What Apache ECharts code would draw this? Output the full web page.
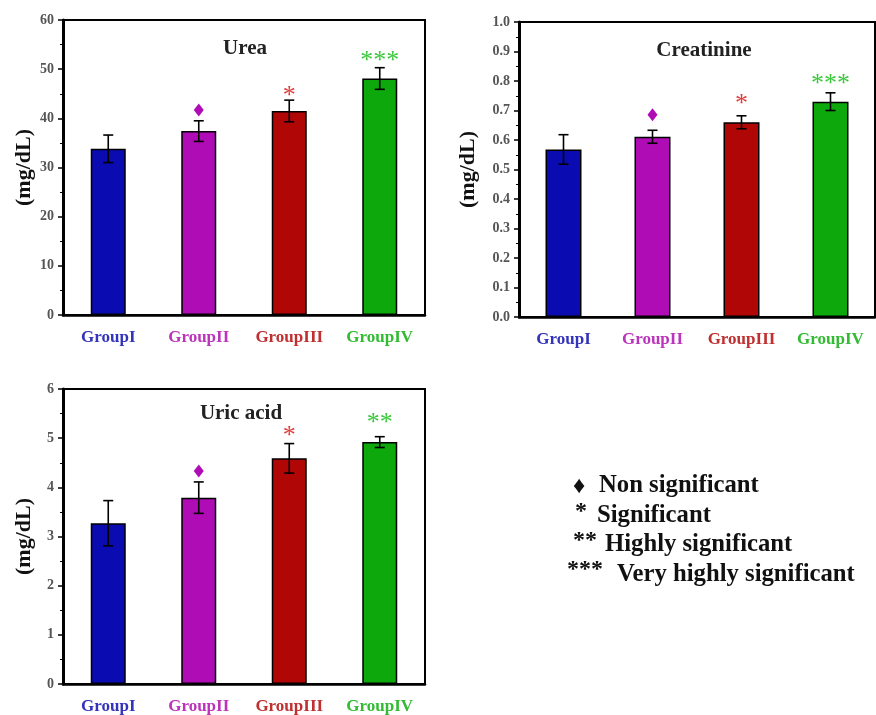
<!DOCTYPE html>
<html><head><meta charset="utf-8">
<script src="https://cdn.jsdelivr.net/npm/echarts@6/dist/echarts.min.js"></script>
<style>html,body{margin:0;padding:0;background:#fff}#c{width:876px;height:715px}</style>
</head><body><div id="c"></div>
<script>
const categories = ['GroupI', 'GroupII', 'GroupIII', 'GroupIV'];
const catColors = ['#3434bb', '#bb34bb', '#c03030', '#34bb34'];
const barColors = ['#0b0bb2', '#b00cb6', '#b00606', '#0ca80c'];

const ureaMean = [33.8, 37.4, 41.5, 48.1];
const ureaErr = [2.8, 2.1, 2.2, 2.2];
const ureaSigY = [null, 41.7, 45.7, 52.8];
const ureaSig = ['', 'diamond', '*', '***'];

const creatMean = [0.568, 0.611, 0.660, 0.730];
const creatErr = [0.05, 0.022, 0.022, 0.03];
const creatSigY = [null, 0.686, 0.742, 0.811];
const creatSig = ['', 'diamond', '*', '***'];

const uricMean = [3.27, 3.79, 4.59, 4.92];
const uricErr = [0.46, 0.32, 0.30, 0.11];
const uricSigY = [null, 4.33, 5.16, 5.43];
const uricSig = ['', 'diamond', '*', '**'];

const sigColors = ['#000', '#b00cb6', '#e03c3c', '#3cc83c'];
const legendSymbols = ['\u2666', '*', '**', '***'];
const legendLabels = ['Non significant', 'Significant', 'Highly significant', 'Very highly significant'];

const SERIF = '"Liberation Serif", "Times New Roman", "DejaVu Serif", serif';

const grids = [
  {left: 63, top: 20, width: 362, height: 295},
  {left: 519, top: 22, width: 356, height: 295},
  {left: 63, top: 389, width: 362, height: 296}
];
const yCfg = [
  {min: 0, max: 60, interval: 10, dec: 0, gap: 28},
  {min: 0, max: 1.0, interval: 0.1, dec: 1, gap: 40},
  {min: 0, max: 6, interval: 1, dec: 0, gap: 28}
];
const titles = [
  {text: 'Urea', x: 240, y: 33},
  {text: 'Creatinine', x: 699, y: 35},
  {text: 'Uric acid', x: 236, y: 398}
];
const means = [ureaMean, creatMean, uricMean];
const errs = [ureaErr, creatErr, uricErr];
const sigYs = [ureaSigY, creatSigY, uricSigY];
const sigs = [ureaSig, creatSig, uricSig];
const barWidths = [35, 36, 35];

const legendGraphics = [];
const symX = [573, 575, 573, 567];
const labX = [599, 597, 605, 617];
for (let i = 0; i < 4; i++) {
  const y = 484 + i * 29.4;
  legendGraphics.push({type: 'text', x: symX[i], y: y + (i === 0 ? 3 : -2),
    style: {text: legendSymbols[i], font: 'bold 24px ' + SERIF, fill: '#111', textVerticalAlign: 'middle'}});
  legendGraphics.push({type: 'text', x: labX[i], y: y + 2,
    style: {text: legendLabels[i], font: 'bold 24.7px ' + SERIF, fill: '#111', textVerticalAlign: 'middle'}});
}

const option = {
  animation: false,
  backgroundColor: '#fff',
  title: titles.map(t => ({
    text: t.text, left: t.x, top: t.y, textAlign: 'center',
    textStyle: {fontFamily: SERIF, fontWeight: 'bold', fontSize: 21, color: '#222'}
  })),
  grid: grids.map(g => Object.assign({show: true, borderColor: '#000', borderWidth: 2, backgroundColor: 'transparent'}, g)),
  xAxis: grids.map((g, i) => ({
    type: 'category', gridIndex: i, data: categories,
    axisLine: {lineStyle: {color: '#000', width: 2.5}},
    axisTick: {alignWithLabel: true, length: 7, lineStyle: {color: '#000', width: 2}},
    axisLabel: {
      margin: 14, fontFamily: SERIF, fontWeight: 'bold', fontSize: 17,
      color: function (v, idx) { return catColors[idx]; }
    },
    splitLine: {show: false}
  })),
  yAxis: yCfg.map((c, i) => ({
    type: 'value', gridIndex: i, min: c.min, max: c.max, interval: c.interval,
    name: '(mg/dL)', nameLocation: 'middle', nameGap: c.gap,
    nameTextStyle: {fontFamily: SERIF, fontWeight: 'bold', fontSize: 22, color: '#111'},
    axisLine: {show: true, lineStyle: {color: '#000', width: 3}},
    axisTick: {show: true, length: 5, lineStyle: {color: '#000', width: 1.5}},
    minorTick: {show: true, splitNumber: 2, length: 3, lineStyle: {color: '#000', width: 1}},
    axisLabel: {
      margin: 9, fontFamily: SERIF, fontWeight: 'bold', fontSize: 14, color: '#555',
      formatter: v => v.toFixed(c.dec)
    },
    splitLine: {show: false}
  })),
  series: [],
  graphic: legendGraphics
};

for (let i = 0; i < 3; i++) {
  option.series.push({
    type: 'bar', xAxisIndex: i, yAxisIndex: i, barWidth: barWidths[i],
    data: means[i].map((v, k) => ({value: v, itemStyle: {color: barColors[k], borderColor: '#000', borderWidth: 1.5}}))
  });
  option.series.push({
    type: 'custom', xAxisIndex: i, yAxisIndex: i, z: 5,
    data: means[i].map((v, k) => [k, v - errs[i][k], v + errs[i][k]]),
    renderItem: function (params, api) {
      const lo = api.coord([api.value(0), api.value(1)]);
      const hi = api.coord([api.value(0), api.value(2)]);
      const x = lo[0], w = 5;
      const st = {stroke: '#000', lineWidth: 1.6};
      return {type: 'group', children: [
        {type: 'line', shape: {x1: x, y1: lo[1], x2: x, y2: hi[1]}, style: st},
        {type: 'line', shape: {x1: x - w, y1: hi[1], x2: x + w, y2: hi[1]}, style: st},
        {type: 'line', shape: {x1: x - w, y1: lo[1], x2: x + w, y2: lo[1]}, style: st}
      ]};
    }
  });
  const sigData = [];
  sigYs[i].forEach((y, k) => { if (y !== null) sigData.push([k, y, k]); });
  const sigArr = sigs[i];
  option.series.push({
    type: 'custom', xAxisIndex: i, yAxisIndex: i, z: 6,
    data: sigData,
    renderItem: function (params, api) {
      const k = api.value(2);
      const p = api.coord([api.value(0), api.value(1)]);
      const kind = sigArr[k];
      const col = sigColors[k];
      if (kind === 'diamond') {
        return {type: 'polygon', shape: {points: [[p[0], p[1] - 6.5], [p[0] + 5, p[1]], [p[0], p[1] + 6.5], [p[0] - 5, p[1]]]}, style: {fill: col}};
      }
      return {type: 'text', x: p[0], y: p[1] + 6, style: {
        text: kind, fill: col, font: '26px ' + SERIF, textAlign: 'center', textVerticalAlign: 'middle'
      }};
    }
  });
}

const chart = echarts.init(document.getElementById('c'), null, {renderer: 'canvas'});
chart.setOption(option);
</script></body></html>
